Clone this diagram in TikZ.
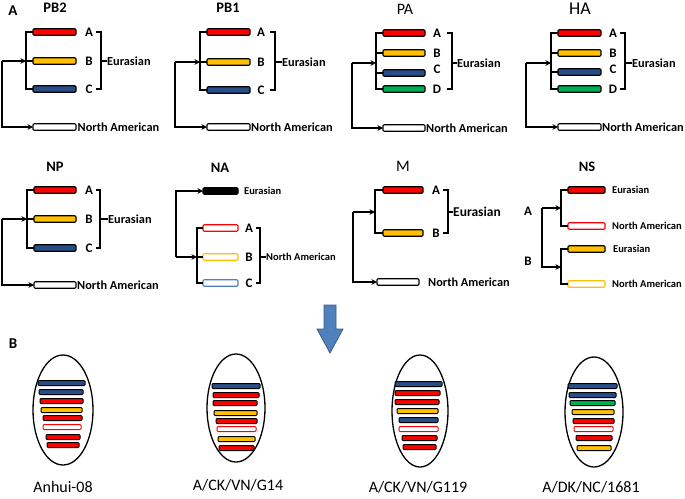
\documentclass[tikz,border=0pt]{standalone}
\usepackage{fontspec}
\setmainfont{Carlito}
\usetikzlibrary{arrows.meta,shapes.geometric}
\definecolor{cred}{RGB}{255,0,0}
\definecolor{cyel}{RGB}{255,192,0}
\definecolor{cblu}{RGB}{40,78,135}
\definecolor{cgrn}{RGB}{0,176,80}
\definecolor{oblu}{RGB}{79,129,189}
\definecolor{arrfill}{RGB}{79,129,189}
\definecolor{arrdraw}{RGB}{56,93,138}
\tikzset{
 bar/.style={draw=black, line width=1.1pt, rounded corners=1.2pt, minimum height=6.5pt, inner sep=0pt, outer sep=0pt},
 obar/.style={line width=1.1pt, rounded corners=1.2pt, minimum height=6.5pt, inner sep=0pt, outer sep=0pt, fill=white},
 sbar/.style={draw=black, line width=1pt, rounded corners=1pt, minimum height=5pt, inner sep=0pt, outer sep=0pt},
 tree/.style={line width=1.2pt},
 arr/.style={line width=1.2pt, -{Stealth[length=5.5pt,width=5.5pt,inset=1.8pt]}},
 lab/.style={font=\bfseries\fontsize{12.3}{14}\selectfont, inner sep=0pt, anchor=west},
 slab/.style={font=\bfseries\fontsize{10.5}{12}\selectfont, inner sep=0pt, anchor=west},
 let/.style={font=\bfseries\fontsize{13}{15}\selectfont, inner sep=0pt},
 tbold/.style={font=\bfseries\fontsize{14.5}{16}\selectfont, inner sep=0pt},
 treg/.style={font=\fontsize{16}{18}\selectfont, inner sep=0pt},
 plab/.style={font=\bfseries\fontsize{15}{17}\selectfont, inner sep=0pt},
 blab/.style={font=\fontsize{16}{18}\selectfont, inner sep=0pt},
 oval/.style={draw=black, line width=1.3pt, ellipse, inner sep=0pt}
}
\begin{document}
\begin{tikzpicture}[x=1pt,y=-1pt]
\useasboundingbox (0,0) rectangle (685,498);
\node[plab] (pA) at (13,11) {A};
\node[plab] (pB) at (13,344) {B};

% ---------- PB2
\node[tbold] (tpb2) at (55,8) {PB2};
\node[bar, fill=cred, minimum width=43pt] (pb2a) at (54.5,32) {};
\node[bar, fill=cyel, minimum width=43pt] (pb2b) at (54.5,61) {};
\node[bar, fill=cblu, minimum width=43pt] (pb2c) at (54.5,89) {};
\node[bar, fill=white, minimum width=43pt] (pb2n) at (54.5,127) {};
\node[let] (pb2la) at (89,32) {A};
\node[let] (pb2lb) at (89,61) {B};
\node[let] (pb2lc) at (89,89) {C};
\node[lab] (pb2e) at (107,61) {Eurasian};
\node[lab] (pb2na) at (77.5,127) {North American};
\draw[tree] (96,32) -- (101,32) -- (101,89) -- (96,89);
\draw[tree] (101,61) -- (pb2e.west);
\coordinate (pb2j) at (26,61);
\coordinate (pb2o) at (2,61);
\draw[tree] (pb2a.west) -| (pb2j) |- (pb2c.west);
\draw[tree] (pb2b.west) -- (pb2j);
\draw[arr] (pb2o) -- (pb2j);
\draw[arr] (pb2o) |- (pb2n.west);

% ---------- PB1
\node[tbold] (tpb1) at (228,8) {PB1};
\node[bar, fill=cred, minimum width=43pt] (pb1a) at (228.5,32) {};
\node[bar, fill=cyel, minimum width=43pt] (pb1b) at (228.5,62) {};
\node[bar, fill=cblu, minimum width=43pt] (pb1c) at (228.5,90) {};
\node[bar, fill=white, minimum width=43pt] (pb1n) at (228.5,127) {};
\node[let] (pb1la) at (261,32) {A};
\node[let] (pb1lb) at (261,62) {B};
\node[let] (pb1lc) at (261,90) {C};
\node[lab] (pb1e) at (282,62) {Eurasian};
\node[lab] (pb1na) at (251,127) {North American};
\draw[tree] (270,32) -- (275,32) -- (275,90) -- (270,90);
\draw[tree] (275,62) -- (pb1e.west);
\coordinate (pb1j) at (200,62);
\coordinate (pb1o) at (175,62);
\draw[tree] (pb1a.west) -| (pb1j) |- (pb1c.west);
\draw[tree] (pb1b.west) -- (pb1j);
\draw[arr] (pb1o) -- (pb1j);
\draw[arr] (pb1o) |- (pb1n.west);

% ---------- PA
\node[treg] (tpa) at (405,9) {PA};
\node[bar, fill=cred, minimum width=42pt] (paa) at (404,33) {};
\node[bar, fill=cyel, minimum width=42pt] (pab) at (404,53) {};
\node[bar, fill=cblu, minimum width=42pt] (pac) at (404,73) {};
\node[bar, fill=cgrn, minimum width=42pt] (pad) at (404,89) {};
\node[bar, fill=white, minimum width=42pt] (pan) at (404,128) {};
\node[let] (pala) at (437,33) {A};
\node[let] (palb) at (437,53) {B};
\node[let] (palc) at (437,69) {C};
\node[let] (pald) at (437,89) {D};
\node[lab] (pae) at (457,63) {Eurasian};
\node[lab] (pana) at (426,128) {North American};
\draw[tree] (447,33) -- (452,33) -- (452,89) -- (447,89);
\draw[tree] (452,63) -- (pae.west);
\coordinate (paj) at (376,63);
\coordinate (pao) at (352,63);
\draw[tree] (paa.west) -| (paj) |- (pad.west);
\draw[tree] (pab.west) -- (pab.west -| paj);
\draw[tree] (pac.west) -- (pac.west -| paj);
\draw[arr] (pao) -- (paj);
\draw[arr] (pao) |- (pan.west);

% ---------- HA
\node[treg, font=\fontsize{18}{20}\selectfont] (tha) at (580,9) {HA};
\node[bar, fill=cred, minimum width=43pt] (haa) at (579.5,33) {};
\node[bar, fill=cyel, minimum width=43pt] (hab) at (579.5,53) {};
\node[bar, fill=cblu, minimum width=43pt] (hac) at (579.5,72) {};
\node[bar, fill=cgrn, minimum width=43pt] (had) at (579.5,89) {};
\node[bar, fill=white, minimum width=43pt] (han) at (579.5,127) {};
\node[let] (hala) at (613,33) {A};
\node[let] (halb) at (613,53) {B};
\node[let] (halc) at (613,69) {C};
\node[let] (hald) at (613,89) {D};
\node[lab] (hae) at (632,63) {Eurasian};
\node[lab] (hana) at (602,127) {North American};
\draw[tree] (620,33) -- (625,33) -- (625,89) -- (620,89);
\draw[tree] (625,63) -- (hae.west);
\coordinate (haj) at (551,63);
\coordinate (hao) at (526,63);
\draw[tree] (haa.west) -| (haj) |- (had.west);
\draw[tree] (hab.west) -- (hab.west -| haj);
\draw[tree] (hac.west) -- (hac.west -| haj);
\draw[arr] (hao) -- (haj);
\draw[arr] (hao) |- (han.west);

% ---------- NP
\node[tbold] (tnp) at (55,167) {NP};
\node[bar, fill=cred, minimum width=42pt] (npa) at (55,190) {};
\node[bar, fill=cyel, minimum width=42pt] (npb) at (55,219) {};
\node[bar, fill=cblu, minimum width=42pt] (npc) at (55,248) {};
\node[bar, fill=white, minimum width=42pt] (npn) at (55,285) {};
\node[let] (npla) at (89,190) {A};
\node[let] (nplb) at (89,219) {B};
\node[let] (nplc) at (89,248) {C};
\node[lab] (npe) at (108,219) {Eurasian};
\node[lab] (npna) at (77,285) {North American};
\draw[tree] (96,190) -- (100,190) -- (100,248) -- (96,248);
\draw[tree] (100,219) -- (npe.west);
\coordinate (npj) at (27,219);
\coordinate (npo) at (2,219);
\draw[tree] (npa.west) -| (npj) |- (npc.west);
\draw[tree] (npb.west) -- (npj);
\draw[arr] (npo) -- (npj);
\draw[arr] (npo) |- (npn.west);

% ---------- NA
\node[tbold] (tna) at (220,168) {NA};
\node[bar, fill=black, minimum width=35pt] (nak) at (220.5,191) {};
\node[slab] (nae) at (244,191) {Eurasian};
\node[obar, draw=cred, minimum width=35pt] (naa) at (220.5,228) {};
\node[obar, draw=cyel, minimum width=35pt] (nab) at (220.5,257) {};
\node[obar, draw=oblu, minimum width=35pt] (nac) at (220.5,283) {};
\node[let] (nala) at (249,228) {A};
\node[let] (nalb) at (249,257) {B};
\node[let] (nalc) at (249,283) {C};
\node[slab] (nana) at (266,257) {North American};
\draw[tree] (256,228) -- (260,228) -- (260,283) -- (256,283);
\draw[tree] (260,257) -- (nana.west);
\coordinate (naj) at (197,257);
\coordinate (nao) at (176,257);
\draw[tree] (naa.west) -| (naj) |- (nac.west);
\draw[tree] (nab.west) -- (naj);
\draw[arr] (nao) -- (naj);
\draw[arr] (nao) |- (nak.west);

% ---------- M
\node[treg] (tm) at (403,166) {M};
\node[bar, fill=cred, minimum width=40pt] (ma) at (403,190) {};
\node[bar, fill=cyel, minimum width=40pt] (mb) at (403,233) {};
\node[bar, fill=white, minimum width=42pt] (mn) at (398,282) {};
\node[let] (mla) at (436,190) {A};
\node[let] (mlb) at (436,233) {B};
\node[lab, font=\bfseries\fontsize{13.5}{15}\selectfont] (me) at (453,212) {Eurasian};
\node[lab] (mna) at (428,282) {North American};
\draw[tree] (443,190) -- (448,190) -- (448,233) -- (443,233);
\draw[tree] (448,212) -- (me.west);
\coordinate (mj) at (375,212);
\coordinate (mo) at (353,212);
\draw[tree] (ma.west) -| (mj) |- (mb.west);
\draw[arr] (mo) -- (mj);
\draw[arr] (mo) |- (mn.west);

% ---------- NS
\node[tbold] (tns) at (587,167) {NS};
\node[bar, fill=cred, minimum width=37pt] (nsa) at (586.5,190) {};
\node[obar, draw=cred, minimum width=37pt] (nsb) at (586.5,226) {};
\node[bar, fill=cyel, minimum width=37pt] (nsc) at (586.5,249) {};
\node[obar, draw=cyel, minimum width=37pt] (nsd) at (586.5,284) {};
\node[slab] (nsea) at (612,190) {Eurasian};
\node[slab] (nsna) at (612,226) {North American};
\node[slab] (nseb) at (613,249) {Eurasian};
\node[slab] (nsnb) at (612,284) {North American};
\node[let] (nsla) at (528,211) {A};
\node[let] (nslb) at (528,261) {B};
\coordinate (nsj1) at (561,208);
\coordinate (nsj2) at (561,267);
\coordinate (nso) at (542,208);
\draw[tree] (nsa.west) -| (nsj1) |- (nsb.west);
\draw[tree] (nsc.west) -| (nsj2) |- (nsd.west);
\draw[arr] (nso) -- (nsj1);
\draw[arr] (nso) |- (nsj2);

% ---------- big arrow
\draw[fill=arrfill, draw=arrdraw, line width=0.8pt]
  (324,305) -- (336,305) -- (336,329) -- (343,329) -- (330,353) -- (317,329) -- (324,329) -- cycle;

% ---------- ellipse 1
\node[oval, minimum width=60pt, minimum height=110pt] (ov1) at (63,410) {};
\node[sbar, fill=cblu, minimum width=47pt] (e1a) at (61.5,383) {};
\node[sbar, fill=cblu, minimum width=44pt] (e1b) at (61,392) {};
\node[sbar, fill=cred, minimum width=43pt] (e1c) at (61.5,401) {};
\node[sbar, fill=cyel, minimum width=41pt] (e1d) at (61.5,410) {};
\node[sbar, fill=cred, minimum width=39pt] (e1e) at (62.5,418) {};
\node[sbar, draw=cred, fill=white, minimum width=38pt] (e1f) at (62,427) {};
\node[sbar, fill=cred, minimum width=34pt] (e1g) at (63,437) {};
\node[sbar, fill=cred, minimum width=32pt] (e1h) at (63,445) {};
\node[blab] (l1) at (63,487) {Anhui-08};

% ---------- ellipse 2
\node[oval, minimum width=58pt, minimum height=108pt] (ov2) at (236,408) {};
\node[sbar, fill=cblu, minimum width=48pt] (e2a) at (236,386) {};
\node[sbar, fill=cred, minimum width=46pt] (e2b) at (236,395) {};
\node[sbar, fill=cred, minimum width=44pt] (e2c) at (235,403) {};
\node[sbar, fill=cyel, minimum width=43pt] (e2d) at (235.5,413) {};
\node[sbar, fill=cred, minimum width=41pt] (e2e) at (236.5,421) {};
\node[sbar, draw=cred, fill=white, minimum width=39pt] (e2f) at (236.5,429) {};
\node[sbar, fill=cyel, minimum width=37pt] (e2g) at (236.5,439) {};
\node[sbar, fill=cred, minimum width=35pt] (e2h) at (236.5,448) {};
\node[blab] (l2) at (238,485) {A/CK/VN/G14};

% ---------- ellipse 3
\node[oval, minimum width=56pt, minimum height=112pt] (ov3) at (420,411) {};
\node[sbar, fill=cblu, minimum width=47pt] (e3a) at (418.5,384) {};
\node[sbar, fill=cred, minimum width=45pt] (e3b) at (417.5,393) {};
\node[sbar, fill=cred, minimum width=44pt] (e3c) at (417,402) {};
\node[sbar, fill=cyel, minimum width=41pt] (e3d) at (417.5,411) {};
\node[sbar, fill=cblu, minimum width=39pt] (e3e) at (418.5,420) {};
\node[sbar, draw=cred, fill=white, minimum width=39pt] (e3f) at (418.5,429) {};
\node[sbar, fill=cred, minimum width=35pt] (e3g) at (419.5,438) {};
\node[sbar, fill=cred, minimum width=33pt] (e3h) at (419.5,447) {};
\node[blab] (l3) at (418,487) {A/CK/VN/G119};

% ---------- ellipse 4
\node[oval, minimum width=58pt, minimum height=110pt] (ov4) at (594,412) {};
\node[sbar, fill=cblu, minimum width=49pt] (e4a) at (592.5,386) {};
\node[sbar, fill=cblu, minimum width=47pt] (e4b) at (592.5,395) {};
\node[sbar, fill=cgrn, minimum width=45pt] (e4c) at (592.5,403) {};
\node[sbar, fill=cyel, minimum width=42pt] (e4d) at (593,412) {};
\node[sbar, fill=cred, minimum width=41pt] (e4e) at (593.5,421) {};
\node[sbar, draw=cred, fill=white, minimum width=39pt] (e4f) at (593.5,429) {};
\node[sbar, fill=cred, minimum width=36pt] (e4g) at (594,438) {};
\node[sbar, fill=cyel, minimum width=34pt] (e4h) at (594,448) {};
\node[blab] (l4) at (591,487) {A/DK/NC/1681};
\end{tikzpicture}
\end{document}
